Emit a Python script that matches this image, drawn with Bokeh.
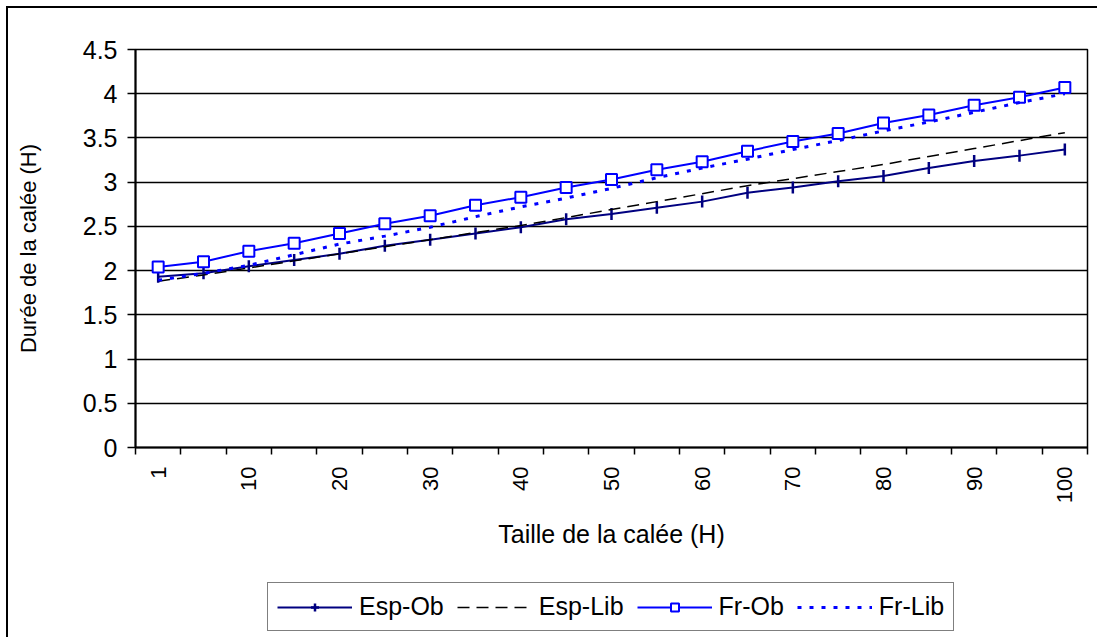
import numpy as np
from bokeh.plotting import figure
from bokeh.layouts import column
from bokeh.models import (FixedTicker, NumeralTickFormatter, Legend, LegendItem, Range1d)
from bokeh.embed import file_html
from bokeh.resources import INLINE

# ---- data ----
sizes = [1, 5, 10, 15, 20, 25, 30, 35, 40, 45, 50, 55, 60, 65, 70, 75, 80, 85, 90, 95, 100]
tick_labels = ["1", "10", "20", "30", "40", "50", "60", "70", "80", "90", "100"]
y_ticks = [0, 0.5, 1, 1.5, 2, 2.5, 3, 3.5, 4, 4.5]

esp_ob = [1.93, 1.97, 2.05, 2.12, 2.19, 2.28, 2.35, 2.42, 2.49, 2.58, 2.64,
          2.71, 2.78, 2.88, 2.94, 3.01, 3.07, 3.16, 3.24, 3.30, 3.37]
esp_lib = [1.88, 1.95, 2.03, 2.11, 2.19, 2.27, 2.35, 2.43, 2.51, 2.60, 2.69,
           2.78, 2.87, 2.96, 3.04, 3.12, 3.20, 3.29, 3.38, 3.47, 3.56]
fr_ob = [2.04, 2.10, 2.22, 2.31, 2.42, 2.53, 2.62, 2.74, 2.83, 2.94, 3.03,
         3.14, 3.23, 3.35, 3.46, 3.55, 3.67, 3.76, 3.87, 3.96, 4.07]
fr_lib = [1.89, 1.97, 2.06, 2.18, 2.30, 2.39, 2.49, 2.61, 2.72, 2.82, 2.93,
          3.05, 3.16, 3.26, 3.37, 3.47, 3.58, 3.68, 3.79, 3.90, 4.00]
series_names = ["Esp-Ob", "Esp-Lib", "Fr-Ob", "Fr-Lib"]

x = list(range(len(sizes)))
FONT = "Liberation Sans"
navy = "#000080"
blue = "#0000FF"

p = figure(width=1089, height=560, output_backend="svg", toolbar_location=None,
           x_range=Range1d(-0.5, len(sizes) - 0.5), y_range=Range1d(0, 4.5),
           min_border_left=127, min_border_right=10, min_border_top=41,
           min_border_bottom=121)

p.background_fill_color = "white"
p.border_fill_color = "white"
p.outline_line_color = "black"
p.outline_line_width = 1.5

# y axis
yt = FixedTicker(ticks=y_ticks)
p.yaxis.ticker = yt
p.ygrid.ticker = yt
p.yaxis.formatter = NumeralTickFormatter(format="0.[0]")
p.ygrid.grid_line_color = "black"
p.ygrid.grid_line_width = 1.5
p.xgrid.grid_line_color = None
p.yaxis.axis_label = "Durée de la calée (H)"
p.yaxis.axis_line_width = 2
p.yaxis.axis_line_color = "black"
p.yaxis.major_tick_out = 8
p.yaxis.major_tick_in = 0
p.yaxis.major_tick_line_width = 1.5
p.yaxis.minor_tick_line_color = None
p.yaxis.major_label_standoff = 10
p.yaxis.major_label_text_font = FONT
p.yaxis.major_label_text_font_size = "25px"
p.yaxis.major_label_text_color = "black"
p.yaxis.axis_label_text_font = FONT
p.yaxis.axis_label_text_font_size = "22px"
p.yaxis.axis_label_text_font_style = "normal"
p.yaxis.axis_label_text_color = "black"
p.yaxis.axis_label_standoff = 39

# x axis: labels on every other category, ticks between categories
label_pos = [i for i, s in enumerate(sizes) if str(s) in tick_labels]
xt = FixedTicker(ticks=label_pos, minor_ticks=[i - 0.5 for i in range(len(sizes) + 1)])
p.xaxis.ticker = xt
p.xaxis.major_label_overrides = {i: str(sizes[i]) for i in label_pos}
p.xaxis.major_label_orientation = np.pi / 2
p.xaxis.axis_label = "Taille de la calée (H)"
p.xaxis.axis_line_width = 2
p.xaxis.axis_line_color = "black"
p.xaxis.major_tick_line_color = None
p.xaxis.major_tick_out = 7
p.xaxis.major_tick_in = 0
p.xaxis.minor_tick_out = 7
p.xaxis.minor_tick_in = 0
p.xaxis.minor_tick_line_color = "black"
p.xaxis.minor_tick_line_width = 1.5
p.xaxis.major_label_standoff = 12
p.xaxis.major_label_text_font = FONT
p.xaxis.major_label_text_font_size = "22px"
p.xaxis.major_label_text_color = "black"
p.xaxis.axis_label_text_font = FONT
p.xaxis.axis_label_text_font_size = "25px"
p.xaxis.axis_label_text_font_style = "normal"
p.xaxis.axis_label_text_color = "black"
p.xaxis.axis_label_standoff = 14


def draw(fig, xs, a, b, c, d, tick_marker="dash", tick_angle=np.pi / 2):
    r1 = fig.line(xs, a, line_color=navy, line_width=2)
    r1m = fig.scatter(xs, a, marker=tick_marker, angle=tick_angle, size=12,
                      line_color=navy, line_width=2.5)
    r2 = fig.line(xs, b, line_color="black", line_width=1.5, line_dash="12 7")
    r3 = fig.line(xs, c, line_color=blue, line_width=2)
    r3m = fig.scatter(xs, c, marker="square", size=11, line_color=blue,
                      line_width=2, fill_color="white")
    r4 = fig.line(xs, d, line_color=blue, line_width=3, line_dash="4 8")
    return [[r1, r1m], [r2], [r3, r3m], [r4]]


draw(p, x, esp_ob, esp_lib, fr_ob, fr_lib)

# legend strip below the chart: same series, kept out of view (only the legend shows)
pl = figure(width=1089, height=69, output_backend="svg", toolbar_location=None,
            x_range=Range1d(-0.5, len(sizes) - 0.5), y_range=Range1d(100, 101),
            min_border=0)
pl.axis.visible = False
pl.grid.visible = False
pl.outline_line_color = None
pl.background_fill_color = "white"
pl.border_fill_color = "white"
groups = draw(pl, x, esp_ob, esp_lib, fr_ob, fr_lib, tick_marker="cross", tick_angle=0)

legend = Legend(items=[LegendItem(label=n, renderers=g) for n, g in zip(series_names, groups)],
                orientation="horizontal", location=(132, 6), glyph_width=75, glyph_height=20,
                label_standoff=7, spacing=13, padding=9, margin=0,
                border_line_color="black", border_line_width=1.5,
                label_text_font=FONT, label_text_font_size="25px", label_text_color="black",
                background_fill_color="white", background_fill_alpha=1.0)
pl.add_layout(legend)

layout = column(p, pl, spacing=0,
                styles={"margin-left": "6px", "margin-top": "6px",
                        "border-left": "2px solid black", "border-top": "2px solid black"})

open("out.html", "w").write(file_html(layout, INLINE))
